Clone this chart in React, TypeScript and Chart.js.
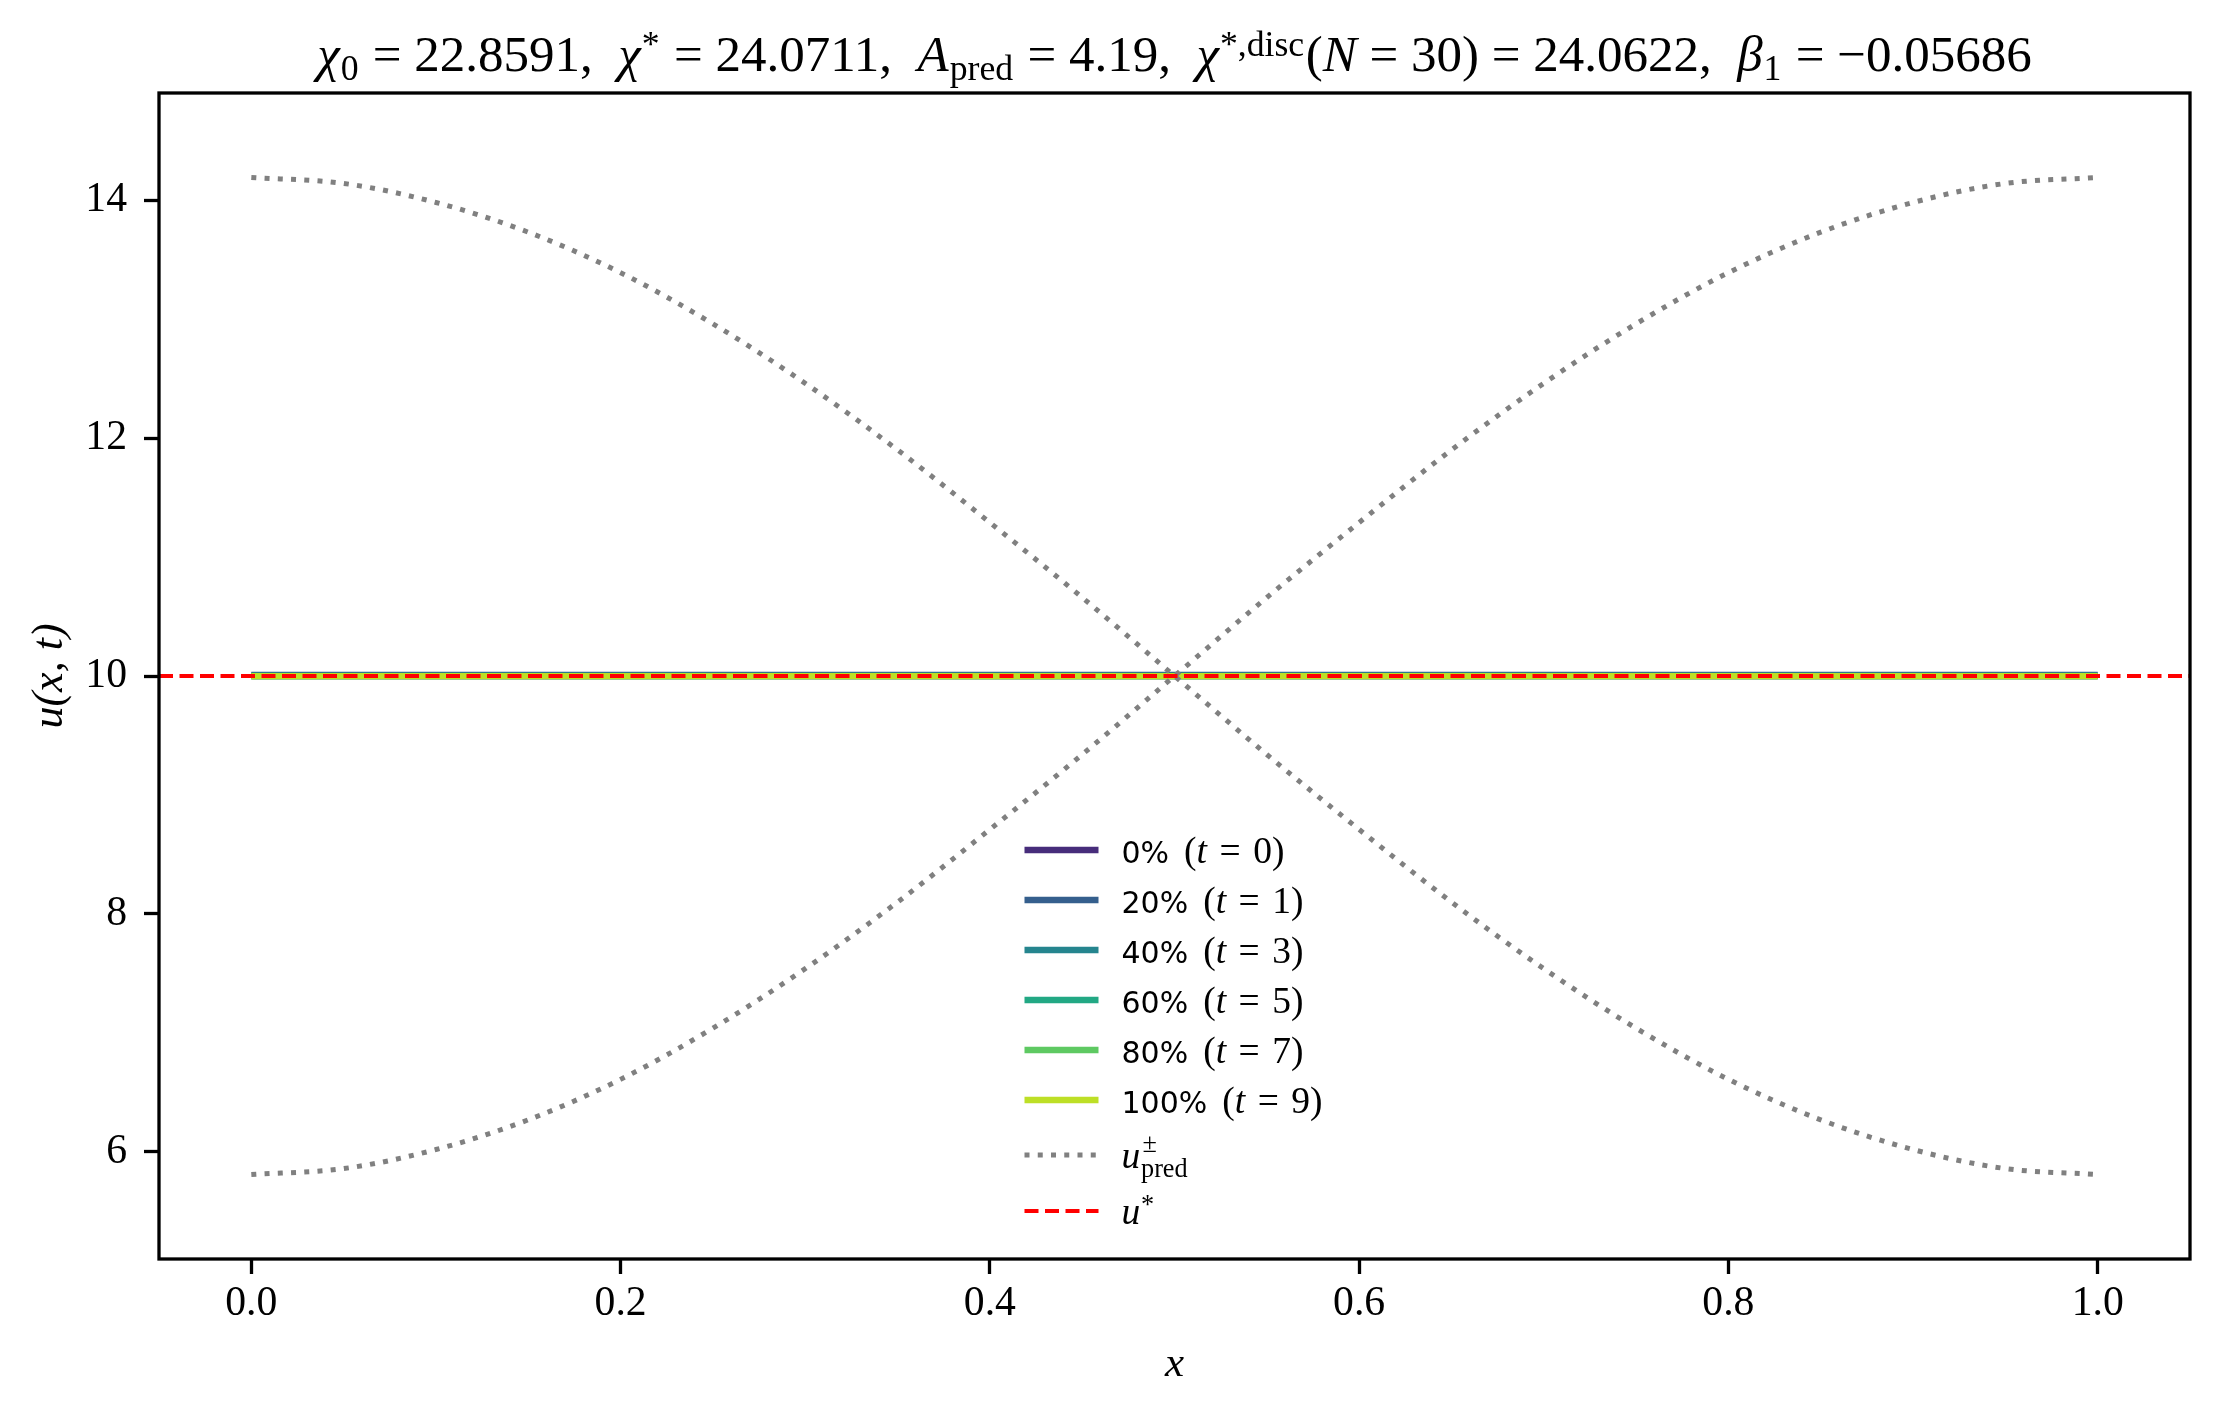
import { useEffect, useRef } from "react";
import { Chart, registerables } from "chart.js";

Chart.register(...registerables);

const W = 2220;
const H = 1409;

const SERIF = '"Liberation Serif", "DejaVu Serif", serif';
const SANS = '"DejaVu Sans", sans-serif';

// x positions the profiles are sampled at
const xGrid = [0, 0.05, 0.1, 0.15, 0.2, 0.25, 0.3, 0.35, 0.4, 0.45, 0.5, 0.55, 0.6, 0.65, 0.7, 0.75, 0.8, 0.85, 0.9, 0.95, 1.0];

// predicted envelopes u_pred^+ / u_pred^-
const uPredPlus = [14.19, 14.14, 13.98, 13.73, 13.39, 12.96, 12.46, 11.9, 11.29, 10.66, 10.0, 9.34, 8.71, 8.1, 7.54, 7.04, 6.61, 6.27, 6.02, 5.86, 5.81];
const uPredMinus = [5.81, 5.86, 6.02, 6.27, 6.61, 7.04, 7.54, 8.1, 8.71, 9.34, 10.0, 10.66, 11.29, 11.9, 12.46, 12.96, 13.39, 13.73, 13.98, 14.14, 14.19];

// snapshots of u(x,t)
const snapshotPct = [0, 20, 40, 60, 80, 100];
const snapshotT = [0, 1, 3, 5, 7, 9];
const snapshotColors = ["#472d7b", "#355f8d", "#25858e", "#22a884", "#5ec962", "#bddf26"];
const snapshot0 = [10, 10, 10, 10, 10, 10, 10, 10, 10, 10, 10, 10, 10, 10, 10, 10, 10, 10, 10, 10, 10];
const snapshot1 = [10.01, 10.01, 10.01, 10.01, 10.01, 10.01, 10.01, 10.01, 10.01, 10.01, 10.01, 10.01, 10.01, 10.01, 10.01, 10.01, 10.01, 10.01, 10.01, 10.01, 10.01];
const snapshot2 = [10.005, 10.005, 10.005, 10.005, 10.005, 10.005, 10.005, 10.005, 10.005, 10.005, 10.005, 10.005, 10.005, 10.005, 10.005, 10.005, 10.005, 10.005, 10.005, 10.005, 10.005];
const snapshot3 = [10, 10, 10, 10, 10, 10, 10, 10, 10, 10, 10, 10, 10, 10, 10, 10, 10, 10, 10, 10, 10];
const snapshot4 = [10, 10, 10, 10, 10, 10, 10, 10, 10, 10, 10, 10, 10, 10, 10, 10, 10, 10, 10, 10, 10];
const snapshot5 = [10, 10, 10, 10, 10, 10, 10, 10, 10, 10, 10, 10, 10, 10, 10, 10, 10, 10, 10, 10, 10];
const snapshots = [snapshot0, snapshot1, snapshot2, snapshot3, snapshot4, snapshot5];

const uStar = 10;

const xLimits = [-0.05, 1.05];
const yLimits = [5.1, 14.9];
const xTicks = [0, 0.2, 0.4, 0.6, 0.8, 1.0];
const yTicks = [6, 8, 10, 12, 14];

// numbers in the title
const chi0 = "22.8591";
const chiStar = "24.0711";
const aPred = "4.19";
const nDisc = "30";
const chiDisc = "24.0622";
const beta1 = "\u22120.05686";

// k = size factor of a segment relative to the base size
type Seg = { t?: string; f?: "r" | "i" | "s"; pos?: "sub" | "sup"; sup?: string; sub?: string; k?: number };

function fontStr(f: string | undefined, size: number) {
  if (f === "i") return `italic ${size}px ${SERIF}`;
  if (f === "s") return `${size}px ${SANS}`;
  return `${size}px ${SERIF}`;
}

function segWidth(ctx: CanvasRenderingContext2D, s: Seg, base: number) {
  const size = base * (s.k ?? 1);
  const small = size * 0.7;
  if (s.sup !== undefined || s.sub !== undefined) {
    ctx.font = fontStr("r", small);
    return Math.max(ctx.measureText(s.sup ?? "").width, ctx.measureText(s.sub ?? "").width) + size * 0.06;
  }
  ctx.font = fontStr(s.f, s.pos ? small : size);
  return ctx.measureText(s.t ?? "").width + (s.pos ? size * 0.05 : 0);
}

function drawRich(ctx: CanvasRenderingContext2D, segs: Seg[], x: number, baseline: number, base: number, align: "left" | "center") {
  const widths = segs.map((s) => segWidth(ctx, s, base));
  const total = widths.reduce((a, b) => a + b, 0);
  let cx = align === "center" ? x - total / 2 : x;
  ctx.save();
  ctx.textAlign = "left";
  ctx.textBaseline = "alphabetic";
  ctx.fillStyle = "#000";
  segs.forEach((s, i) => {
    const size = base * (s.k ?? 1);
    const small = size * 0.7;
    if (s.sup !== undefined || s.sub !== undefined) {
      ctx.font = fontStr("r", small);
      if (s.sup) ctx.fillText(s.sup, cx + size * 0.06, baseline - size * 0.42);
      if (s.sub) ctx.fillText(s.sub, cx + size * 0.02, baseline + size * 0.25);
    } else if (s.pos) {
      ctx.font = fontStr(s.f, small);
      ctx.fillText(s.t ?? "", cx + size * 0.02, baseline + (s.pos === "sub" ? size * 0.18 : -size * 0.3));
    } else {
      ctx.font = fontStr(s.f, size);
      ctx.fillText(s.t ?? "", cx, baseline);
    }
    cx += widths[i];
  });
  ctx.restore();
}

const titleSegs: Seg[] = [
  { t: "\u03c7", f: "i" }, { t: "0", pos: "sub" }, { t: ` = ${chi0},  ` },
  { t: "\u03c7", f: "i" }, { t: "*", pos: "sup" }, { t: ` = ${chiStar},  ` },
  { t: "A", f: "i" }, { t: "pred", pos: "sub" }, { t: ` = ${aPred},  ` },
  { t: "\u03c7", f: "i" }, { t: "*,disc", pos: "sup" }, { t: "(" }, { t: "N", f: "i" },
  { t: ` = ${nDisc}) = ${chiDisc},  ` },
  { t: "\u03b2", f: "i" }, { t: "1", pos: "sub" }, { t: ` = ${beta1}` },
];

const titlePlugin = {
  id: "richTitle",
  afterDraw(chart: Chart) {
    const a = chart.chartArea;
    drawRich(chart.ctx, titleSegs, (a.left + a.right) / 2, a.top - 22, 51, "center");
  },
};

const framePlugin = {
  id: "frame",
  afterDatasetsDraw(chart: Chart) {
    const { ctx, chartArea: a } = chart;
    ctx.save();
    ctx.strokeStyle = "#000";
    ctx.lineWidth = 3.3;
    ctx.lineJoin = "miter";
    ctx.strokeRect(a.left, a.top, a.right - a.left, a.bottom - a.top);
    ctx.restore();
  },
};

type LegendRow = { segs: Seg[]; color: string; width: number; dash: number[] };

const MATH_K = 1.25;

const legendRows: LegendRow[] = [
  ...snapshotPct.map((p, i) => ({
    segs: [
      { t: `${p}%\u2002`, f: "s" as const },
      { t: "(", k: MATH_K },
      { t: "t", f: "i" as const, k: MATH_K },
      { t: `\u2004=\u2004${snapshotT[i]})`, k: MATH_K },
    ],
    color: snapshotColors[i],
    width: 6.5,
    dash: [] as number[],
  })),
  { segs: [{ t: "u", f: "i", k: MATH_K }, { sup: "\u00b1", sub: "pred", k: MATH_K }], color: "#808080", width: 5, dash: [5, 8.25] },
  { segs: [{ t: "u", f: "i", k: MATH_K }, { t: "*", pos: "sup", k: MATH_K }], color: "#ff0000", width: 3.8, dash: [14, 6.5] },
];
const legendGaps = [50, 50, 50, 50, 50, 55, 56];

const legendPlugin = {
  id: "mplLegend",
  afterDraw(chart: Chart) {
    const { ctx, chartArea: a } = chart;
    const x0 = (a.left + a.right) / 2 - 150;
    const x1 = x0 + 74;
    let y = a.bottom - 48 - legendGaps.reduce((s, g) => s + g, 0);
    legendRows.forEach((row, i) => {
      ctx.save();
      ctx.strokeStyle = row.color;
      ctx.lineWidth = row.width;
      ctx.lineCap = "butt";
      ctx.setLineDash(row.dash);
      ctx.beginPath();
      ctx.moveTo(x0, y);
      ctx.lineTo(x1, y);
      ctx.stroke();
      ctx.restore();
      drawRich(ctx, row.segs, x1 + 23, y + 13, 30, "left");
      y += legendGaps[i] ?? 0;
    });
  },
};

const toPoints = (ys: number[]) => ys.map((y, i) => ({ x: xGrid[i], y }));

export default function App() {
  const canvasRef = useRef<HTMLCanvasElement>(null);

  useEffect(() => {
    if (!canvasRef.current) return;
    Chart.defaults.font.family = SERIF;

    const datasets: any[] = [
      ...snapshots.map((p, i) => ({
        label: `${snapshotPct[i]}% (t = ${snapshotT[i]})`,
        data: toPoints(p),
        borderColor: snapshotColors[i],
        borderWidth: 6.25,
        showLine: true,
        pointRadius: 0,
        order: 20 - i,
      })),
      {
        label: "u_pred+",
        data: toPoints(uPredPlus),
        borderColor: "#808080",
        borderWidth: 5,
        borderDash: [5, 8.25],
        showLine: true,
        pointRadius: 0,
        cubicInterpolationMode: "monotone",
        order: 3,
      },
      {
        label: "u_pred-",
        data: toPoints(uPredMinus),
        borderColor: "#808080",
        borderWidth: 5,
        borderDash: [5, 8.25],
        showLine: true,
        pointRadius: 0,
        cubicInterpolationMode: "monotone",
        order: 2,
      },
      {
        label: "u*",
        data: [
          { x: xLimits[0], y: uStar },
          { x: xLimits[1], y: uStar },
        ],
        borderColor: "#ff0000",
        borderWidth: 3.8,
        borderDash: [14, 6.5],
        showLine: true,
        pointRadius: 0,
        order: 1,
      },
    ];

    const chart = new Chart(canvasRef.current, {
      type: "scatter",
      data: { datasets },
      options: {
        animation: false,
        responsive: false,
        devicePixelRatio: 1,
        layout: { padding: { top: 93, right: 30, bottom: 0, left: 0 } },
        plugins: {
          legend: { display: false },
          tooltip: { enabled: false },
        },
        scales: {
          x: {
            type: "linear",
            min: xLimits[0],
            max: xLimits[1],
            afterFit: (s: any) => {
              s.height = 150;
            },
            afterBuildTicks: (s: any) => {
              s.ticks = xTicks.map((v) => ({ value: v }));
            },
            ticks: {
              color: "#000",
              font: { family: SERIF, size: 41.7 },
              padding: 5,
              maxRotation: 0,
              autoSkip: false,
              callback: (v: any) => Number(v).toFixed(1),
            },
            grid: { drawOnChartArea: false, tickLength: 15, tickWidth: 3.3, tickColor: "#000" },
            border: { display: false },
            title: {
              display: true,
              text: "x",
              color: "#000",
              font: { family: SERIF, size: 43, style: "italic" },
              padding: { top: 0, bottom: 18 },
            },
          },
          y: {
            type: "linear",
            min: yLimits[0],
            max: yLimits[1],
            afterFit: (s: any) => {
              s.width = 159;
            },
            afterBuildTicks: (s: any) => {
              s.ticks = yTicks.map((v) => ({ value: v }));
            },
            ticks: {
              color: "#000",
              font: { family: SERIF, size: 41.7 },
              padding: 17,
              autoSkip: false,
              callback: (v: any) => String(v),
            },
            grid: { drawOnChartArea: false, tickLength: 15, tickWidth: 3.3, tickColor: "#000" },
            border: { display: false },
            title: {
              display: true,
              text: "u(x, t)",
              color: "#000",
              font: { family: SERIF, size: 44, style: "italic" },
              padding: { top: 24, bottom: 0 },
            },
          },
        },
      },
      plugins: [framePlugin, titlePlugin, legendPlugin],
    });

    return () => {
      chart.destroy();
    };
  }, []);

  return (
    <div style={{ position: "absolute", left: 0, top: 0, width: W, height: H, background: "#fff" }}>
      <canvas ref={canvasRef} width={W} height={H} style={{ width: W, height: H, display: "block" }} />
    </div>
  );
}
